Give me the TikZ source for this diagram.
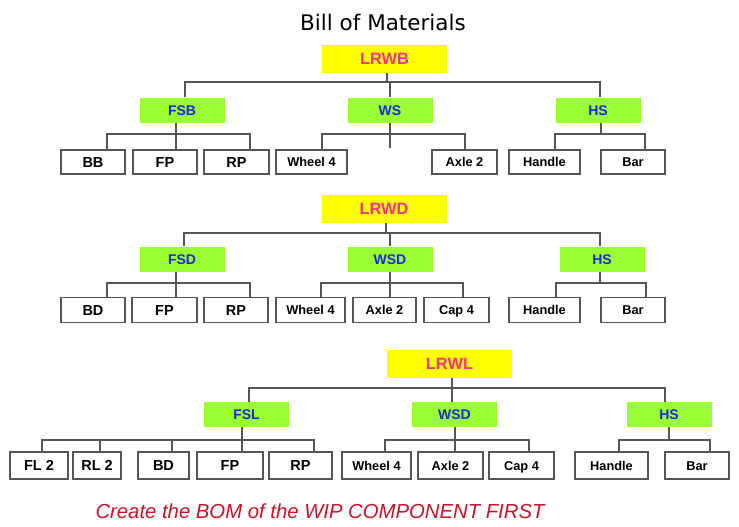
\documentclass[tikz,border=0pt]{standalone}
\usepackage{fontspec}
\setmainfont{Liberation Sans}
\newfontfamily\titlefont{DejaVu Sans}
\definecolor{Top}{HTML}{FFFF00}
\definecolor{TopText}{HTML}{F5338A}
\definecolor{Wip}{HTML}{99FF33}
\definecolor{WipText}{HTML}{1E28D8}
\definecolor{Line}{HTML}{555555}
\definecolor{Note}{HTML}{C4142A}

\begin{document}
\begin{tikzpicture}[x=1pt,y=-1pt,
  topbox/.style={fill=Top,minimum width=125pt,minimum height=28pt,inner sep=0pt,
   text height=11.8pt,text depth=0pt,text=TopText,font=\fontsize{16.4}{18}\selectfont\bfseries},
  wipbox/.style={fill=Wip,minimum width=85pt,minimum height=25pt,inner sep=0pt,
   text height=10pt,text depth=0pt,text=WipText,font=\fontsize{14}{16}\selectfont\bfseries},
  partbox/.style={draw=Line,fill=white,line width=1.8pt,minimum height=24pt,inner sep=0pt,
   text height=9.2pt,text depth=0pt,font=\fontsize{12.8}{14}\selectfont\bfseries},
  short/.style={text height=10.4pt,font=\fontsize{14.5}{16}\selectfont\bfseries},
  link/.style={draw=Line,line width=1.9pt}]
  \useasboundingbox (0,0) rectangle (739,527);
  \node[font=\titlefont\fontsize{21.5}{24}\selectfont,anchor=base] (title) at (383,31) {Bill of Materials};

  \node[topbox] (lrwb) at (384.5,59) {LRWB};
  \node[wipbox] (fsb) at (182,110) {FSB};
  \node[wipbox] (ws) at (390,110) {WS};
  \node[wipbox] (hs-b) at (598,110) {HS};
  \node[partbox,short,minimum width=64pt] (bb) at (93,162) {BB};
  \node[partbox,short,minimum width=64pt] (fp-b) at (165,162) {FP};
  \node[partbox,short,minimum width=65pt] (rp-b) at (236.5,162) {RP};
  \node[partbox,minimum width=71pt] (wheel-b) at (311.5,162) {Wheel 4};
  \node[partbox,minimum width=65pt] (axle-b) at (464.5,162) {Axle 2};
  \node[partbox,minimum width=71pt] (handle-b) at (544.5,162) {Handle};
  \node[partbox,minimum width=64pt] (bar-b) at (633,162) {Bar};
  \coordinate (ws-end) at (390,148);
  \draw[link] ([xshift=2.5]lrwb.south) -- ++(0,9) -| ([xshift=3]fsb.north);
  \draw[link] ([xshift=2.5]lrwb.south) -- ++(0,9) -| (ws.north);
  \draw[link] ([xshift=2.5]lrwb.south) -- ++(0,9) -| ([xshift=2]hs-b.north);
  \draw[link] ([xshift=-6]fsb.south) -- ++(0,11.5) -| ([xshift=14]bb.north);
  \draw[link] ([xshift=-6]fsb.south) -- ++(0,11.5) -| ([xshift=11]fp-b.north);
  \draw[link] ([xshift=-6]fsb.south) -- ++(0,11.5) -| ([xshift=13.5]rp-b.north);
  \draw[link] (ws.south) -- (ws-end);
  \draw[link] (ws.south) -- ++(0,11.5) -| ([xshift=10.5]wheel-b.north);
  \draw[link] (ws.south) -- ++(0,11.5) -| ([xshift=.5]axle-b.north);
  \draw[link] ([xshift=3]hs-b.south) -- ++(0,11.5) -| ([xshift=10.5]handle-b.north);
  \draw[link] ([xshift=3]hs-b.south) -- ++(0,11.5) -| ([xshift=12]bar-b.north);

  \node[topbox] (lrwd) at (384,209) {LRWD};
  \node[wipbox] (fsd) at (182,259) {FSD};
  \node[wipbox] (wsd) at (390,259) {WSD};
  \node[wipbox] (hs-d) at (602,259) {HS};
  \node[partbox,short,minimum width=64pt,minimum height=25pt] (bd-d) at (93,310) {BD};
  \node[partbox,short,minimum width=65pt,minimum height=25pt] (fp-d) at (164.5,310) {FP};
  \node[partbox,short,minimum width=64pt,minimum height=25pt] (rp-d) at (236,310) {RP};
  \node[partbox,minimum width=69pt,minimum height=25pt] (wheel-d) at (310.5,310) {Wheel 4};
  \node[partbox,minimum width=63pt,minimum height=25pt] (axle-d) at (384.5,310) {Axle 2};
  \node[partbox,minimum width=65pt,minimum height=25pt] (cap-d) at (456.5,310) {Cap 4};
  \node[partbox,minimum width=71pt,minimum height=25pt] (handle-d) at (544.5,310) {Handle};
  \node[partbox,minimum width=64pt,minimum height=25pt] (bar-d) at (633,310) {Bar};
  \draw[link] ([xshift=2]lrwd.south) -- ++(0,10) -| ([xshift=2]fsd.north);
  \draw[link] ([xshift=2]lrwd.south) -- ++(0,10) -| (wsd.north);
  \draw[link] ([xshift=2]lrwd.south) -- ++(0,10) -| ([xshift=-2]hs-d.north);
  \draw[link] ([xshift=-6]fsd.south) -- ++(0,11.5) -| ([xshift=14]bd-d.north);
  \draw[link] ([xshift=-6]fsd.south) -- ++(0,11.5) -| ([xshift=11.5]fp-d.north);
  \draw[link] ([xshift=-6]fsd.south) -- ++(0,11.5) -| ([xshift=14]rp-d.north);
  \draw[link] (wsd.south) -- ++(0,11.5) -| ([xshift=10.5]wheel-d.north);
  \draw[link] (wsd.south) -- ++(0,11.5) -| ([xshift=5.5]axle-d.north);
  \draw[link] (wsd.south) -- ++(0,11.5) -| ([xshift=6.5]cap-d.north);
  \draw[link] ([xshift=-2]hs-d.south) -- ++(0,11.5) -| ([xshift=11.5]handle-d.north);
  \draw[link] ([xshift=-2]hs-d.south) -- ++(0,11.5) -| ([xshift=13]bar-d.north);

  \node[topbox] (lrwl) at (449.5,364) {LRWL};
  \node[wipbox] (fsl) at (246.5,414.5) {FSL};
  \node[wipbox] (wsd-l) at (454.5,414.5) {WSD};
  \node[wipbox] (hs-l) at (669,414.5) {HS};
  \node[partbox,short,minimum width=58pt,minimum height=27pt] (fl2) at (39,465.5) {FL 2};
  \node[partbox,short,minimum width=48pt,minimum height=27pt] (rl2) at (97,465.5) {RL 2};
  \node[partbox,short,minimum width=51pt,minimum height=27pt] (bd-l) at (163.5,465.5) {BD};
  \node[partbox,short,minimum width=66pt,minimum height=27pt] (fp-l) at (230,465.5) {FP};
  \node[partbox,short,minimum width=63pt,minimum height=27pt] (rp-l) at (300.5,465.5) {RP};
  \node[partbox,minimum width=69pt,minimum height=27pt] (wheel-l) at (376.5,465.5) {Wheel 4};
  \node[partbox,minimum width=65pt,minimum height=27pt] (axle-l) at (450.5,465.5) {Axle 2};
  \node[partbox,minimum width=65pt,minimum height=27pt] (cap-l) at (521.5,465.5) {Cap 4};
  \node[partbox,minimum width=73pt,minimum height=27pt] (handle-l) at (611.5,465.5) {Handle};
  \node[partbox,minimum width=64pt,minimum height=27pt] (bar-l) at (697,465.5) {Bar};
  \draw[link] ([xshift=2.5]lrwl.south) -- ++(0,10) -| ([xshift=2.5]fsl.north);
  \draw[link] ([xshift=2.5]lrwl.south) -- ++(0,10) -| ([xshift=-2.5]wsd-l.north);
  \draw[link] ([xshift=2.5]lrwl.south) -- ++(0,10) -| ([xshift=-4]hs-l.north);
  \draw[link] ([xshift=-4.5]fsl.south) -- ++(0,13) -| ([xshift=3]fl2.north);
  \draw[link] ([xshift=-4.5]fsl.south) -- ++(0,13) -| ([xshift=3]rl2.north);
  \draw[link] ([xshift=-4.5]fsl.south) -- ++(0,13) -| ([xshift=8.5]bd-l.north);
  \draw[link] ([xshift=-4.5]fsl.south) -- ++(0,13) -| ([xshift=12]fp-l.north);
  \draw[link] ([xshift=-4.5]fsl.south) -- ++(0,13) -| ([xshift=13.5]rp-l.north);
  \draw[link] ([xshift=.5]wsd-l.south) -- ++(0,13) -| ([xshift=8.5]wheel-l.north);
  \draw[link] ([xshift=.5]wsd-l.south) -- ++(0,13) -| ([xshift=4.5]axle-l.north);
  \draw[link] ([xshift=.5]wsd-l.south) -- ++(0,13) -| ([xshift=7.5]cap-l.north);
  \draw[link] (hs-l.south) -- ++(0,13) -| ([xshift=7.5]handle-l.north);
  \draw[link] (hs-l.south) -- ++(0,13) -| ([xshift=13]bar-l.north);

  \node[font=\fontsize{20.3}{22}\selectfont\itshape,text=Note,anchor=base] (note) at (320,518.5)
    {Create the BOM of the WIP COMPONENT FIRST};
\end{tikzpicture}
\end{document}
